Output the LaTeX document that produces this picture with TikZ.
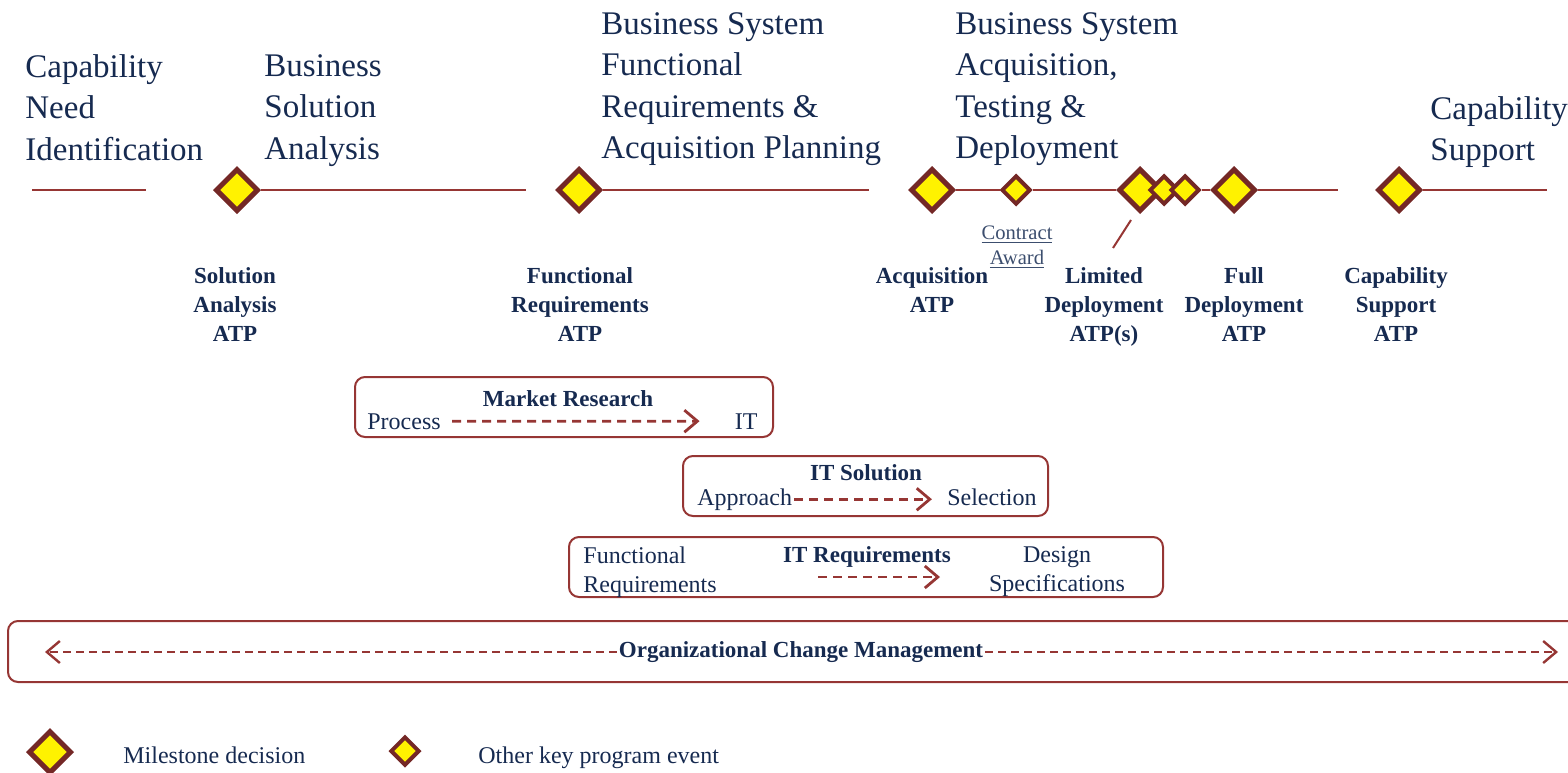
\documentclass[tikz,border=0pt]{standalone}
\usepackage{fontspec}
\setmainfont{Liberation Serif}
\usepackage{tikz}
\usetikzlibrary{shapes.geometric,arrows.meta,positioning}
\definecolor{navy}{RGB}{22,42,80}
\definecolor{slate}{RGB}{60,78,110}
\definecolor{linered}{RGB}{150,54,52}
\definecolor{maroon}{RGB}{116,40,38}
\tikzstyle{milestone} = [diamond, draw=maroon, fill=yellow, line width=2.5pt,
                     inner sep=0pt, minimum size=21.5pt]
\tikzstyle{keyevent} = [diamond, draw=maroon, fill=yellow, line width=2pt,
                     inner sep=0pt, minimum size=14.5pt]
\tikzstyle{phase} = [rectangle, draw=linered, line width=1pt,
                     rounded corners=5pt, minimum height=30pt]

\begin{document}
\begin{tikzpicture}[x=0.5pt,y=-0.5pt,
heading/.style={text=navy, font=\fontsize{16.5}{20.75}\selectfont, align=left, anchor=north west, inner sep=0pt},
atp/.style={text=navy, font=\fontsize{11.5}{14.5}\selectfont\bfseries, align=center, anchor=north, inner sep=0pt},
boxtext/.style={text=navy, font=\fontsize{12}{14.5}\selectfont, inner sep=0pt},
boxtitle/.style={text=navy, font=\fontsize{11.5}{14.5}\selectfont\bfseries, inner sep=0pt},
flow/.style={draw=linered, line width=1.4pt, dash pattern=on 4.5pt off 3pt, -{Straight Barb[length=6.5pt,width=11pt]}},
tl/.style={draw=linered, line width=1pt}]
\useasboundingbox (0,0) rectangle (1568,772);

%Phases
\node[heading] (h1) at (25,54) {Capability\\Need\\Identification};
\node[heading] (h2) at (264,54) {Business\\Solution\\Analysis};
\node[heading] (h3) at (601,12) {Business System\\Functional\\Requirements \&\\Acquisition Planning};
\node[heading] (h4) at (955,12) {Business System\\Acquisition,\\Testing \&\\Deployment};
\node[heading] (h5) at (1430,96) {Capability\\Support};

%Timeline
\coordinate (t0a) at (32,190);
\coordinate (t0b) at (146,190);
\coordinate (t1) at (526,190);
\coordinate (t2) at (869,190);
\coordinate (t3) at (1338,190);
\coordinate (t4) at (1547,190);
\node[milestone] at (237,190) (sa){};
\node[milestone] at (579,190) (fr){};
\node[milestone] at (932,190) (acq){};
\node[keyevent] at (1016,190) (ca){};
\node[milestone] at (1140,190) (ld){};
\node[keyevent] at (1164,190) (ld2){};
\node[keyevent] at (1185,190) (ld3){};
\node[milestone] at (1234,190) (fd){};
\node[milestone] at (1399,190) (cs){};
\draw[tl] (t0a) -- (t0b);
\draw[tl] (sa.east) -- (t1);
\draw[tl] (fr.east) -- (t2);
\draw[tl] (acq.east) -- (ca.west);
\draw[tl] (ca.east) -- (ld.west);
\draw[tl] (ld3.east) -- (fd.west);
\draw[tl] (fd.east) -- (t3);
\draw[tl] (cs.east) -- (t4);

% Decisions
\node[text=slate, font=\fontsize{10.3}{12.5}\selectfont, align=center, anchor=north, inner sep=0pt] (award) at (1017,225) {\underline{Contract}\\\underline{Award}};
\coordinate (sl1) at (1131,220);
\coordinate (sl2) at (1113,248);
\draw[tl] (sl1) -- (sl2);
\node[atp] (lsa) at (235,267) {Solution\\Analysis\\ATP};
\node[atp] (lfr) at (580,267) {Functional\\Requirements\\ATP};
\node[atp] (lacq) at (932,267) {Acquisition\\ATP};
\node[atp] (lld) at (1104,267) {Limited\\Deployment\\ATP(s)};
\node[atp] (lfd) at (1244,267) {Full\\Deployment\\ATP};
\node[atp] (lcs) at (1396,267) {Capability\\Support\\ATP};

% Market research
\node[phase, minimum width=209pt] (mr) at (564,407) {};
\node[boxtitle, anchor=base] (mrt) at (568,406) {Market Research};
\node[boxtext, anchor=base west] (proc) at (367,429) {Process};
\node[boxtext, anchor=base east] (itx) at (758,429) {IT};
\draw[flow, shorten <=5.5pt, shorten >=17.5pt] (proc.east) -- (itx.west);

% IT solution
\node[phase, minimum width=182.5pt] (its) at (865.5,486) {};
\node[boxtitle, anchor=base] (itst) at (866,480) {IT Solution};
\node[boxtext, anchor=base west] (appr) at (697,505) {Approach};
\node[boxtext, anchor=base east] (sel) at (1037,505) {Selection};
\draw[flow, shorten <=1pt, shorten >=7.5pt] (appr.east) -- (appr.east -| sel.west);

% IT requirements
\node[phase, minimum width=297pt] (itr) at (866,567) {};
\node[boxtitle, anchor=base] (itrt) at (867,562) {IT Requirements};
\node[boxtext, anchor=north west, align=left] (fnr) at (583,546) {Functional\\Requirements};
\node[boxtext, anchor=north, align=center] (dsp) at (1057,546) {Design\\Specifications};
\coordinate (irs) at (818,577);
\coordinate (ire) at (940,577);
\draw[flow] (irs) -- (ire);

% Change management
\node[phase, minimum width=786pt, minimum height=30.5pt] (ocmbox) at (794,651.5) {};
\node[boxtitle, fill=white, inner xsep=1pt] (ocm) at (801,652) {Organizational Change Management};
\coordinate (ocmL) at (45,652);
\coordinate (ocmR) at (1558,652);
\draw[flow, line width=1.2pt, dash pattern=on 4pt off 2.5pt] (ocm.west) -- (ocmL);
\draw[flow, line width=1.2pt, dash pattern=on 4pt off 2.5pt] (ocm.east) -- (ocmR);

% Legend
\node[milestone] at (50,752) (lgm){};
\node[boxtext, anchor=base west] (lgmt) at (123,763) {Milestone decision};
\node[keyevent] at (405,751) (lgk){};
\node[boxtext, anchor=base west] (lgkt) at (478,763) {Other key program event};
\end{tikzpicture}
\end{document}
